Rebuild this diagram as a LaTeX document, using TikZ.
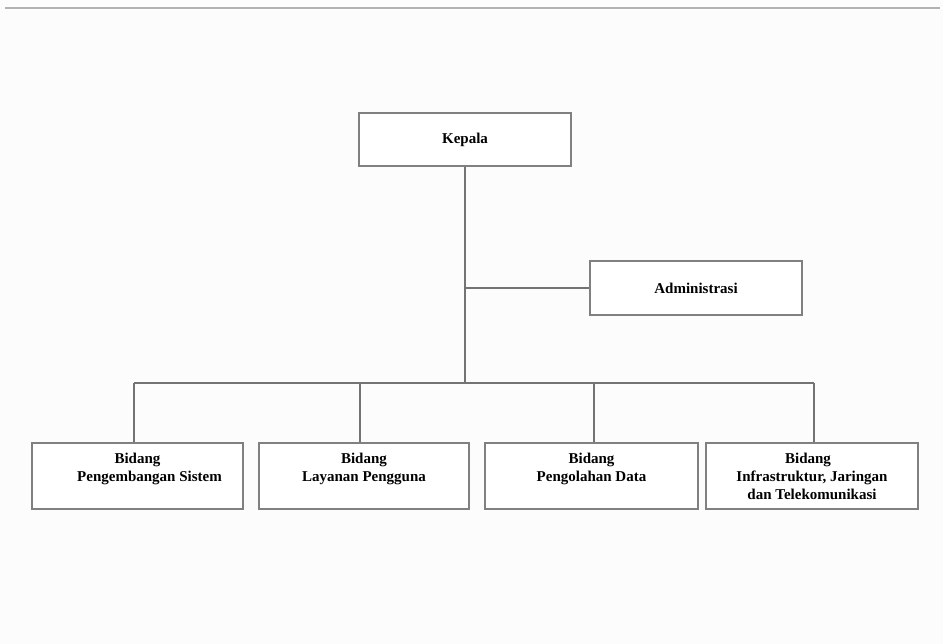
\documentclass[tikz,border=0pt]{standalone}
\usepackage{fontspec}
\setmainfont{Liberation Serif}
\begin{document}
\begin{tikzpicture}[x=1pt,y=1pt,
  box/.style={draw=black!50, line width=1.5pt, fill=white, inner sep=0pt},
  lbl/.style={font=\bfseries\fontsize{15}{18}\selectfont, align=center, inner sep=0pt},
  conn/.style={draw=black!55, line width=1.2pt}]
\fill[black!1] (0,0) rectangle (943,644);
\useasboundingbox (0,0) rectangle (943,644);
\draw[black!30, line width=1.2pt] (5,636) -- (940,636);
\coordinate (bus) at (465,261);
\coordinate (busL) at (134,261);
\coordinate (busR) at (814,261);
\node[box, minimum width=212pt, minimum height=53pt] (kep) at (465,504.5) {};
\node[lbl] at (kep.center) {Kepala};
\node[box, minimum width=212pt, minimum height=54pt] (adm) at (696,356) {};
\node[lbl] at (adm.center) {Administrasi};
\node[box, minimum width=211pt, minimum height=66pt] (b1) at (137.5,168) {};
\node[box, minimum width=210pt, minimum height=66pt] (b2) at (364,168) {};
\node[box, minimum width=213pt, minimum height=66pt] (b3) at (591.5,168) {};
\node[box, minimum width=212pt, minimum height=66pt] (b4) at (812,168) {};
\node[lbl, anchor=north] at ([yshift=-11pt]b1.north) {Bidang\\\hspace*{24pt}Pengembangan Sistem};
\node[lbl, anchor=north] at ([yshift=-11pt]b2.north) {Bidang\\Layanan Pengguna};
\node[lbl, anchor=north] at ([yshift=-11pt]b3.north) {Bidang\\Pengolahan Data};
\node[lbl, anchor=north] at ([yshift=-10.5pt]b4.north) {\hspace*{-8pt}Bidang\\Infrastruktur, Jaringan\\dan Telekomunikasi};
\draw[conn] (kep.south) -- (bus);
\draw[conn] (kep.south |- adm.west) -- (adm.west);
\draw[conn] (busL) -- (busR);
\draw[conn] (busL) -- (busL |- b1.north);
\draw[conn] ([xshift=-4pt]b2.north |- bus) -- ([xshift=-4pt]b2.north);
\draw[conn] ([xshift=2.5pt]b3.north |- bus) -- ([xshift=2.5pt]b3.north);
\draw[conn] (busR) -- (busR |- b4.north);
\end{tikzpicture}
\end{document}
